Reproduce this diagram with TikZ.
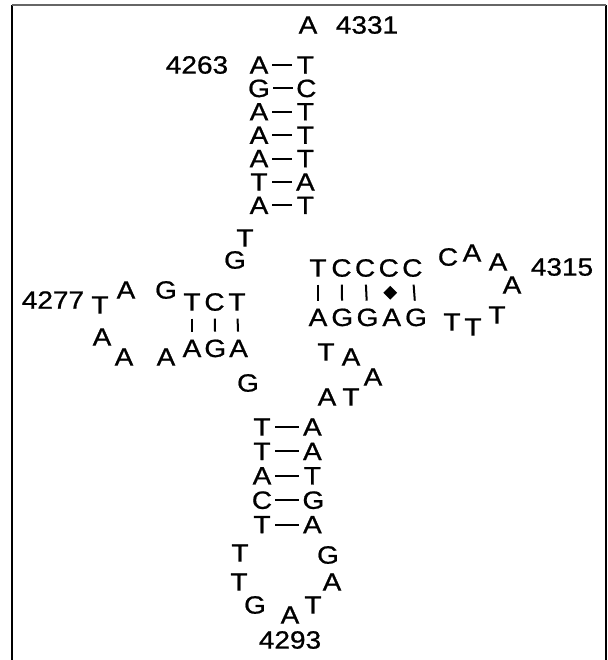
\documentclass[tikz,border=0pt]{standalone}
\usepackage{fontspec}
\setmainfont{Liberation Sans}[FakeStretch=1.12, FakeBold=0.8]
\usetikzlibrary{positioning,shapes.geometric}

\begin{document}
\begin{tikzpicture}[x=1pt, y=-1pt, font=\fontsize{25}{25}\selectfont, every node/.style={inner sep=0pt, minimum width=20pt, minimum height=19pt}, pair/.style={line width=2pt, shorten <=3pt, shorten >=3pt}, bar/.style={line width=2pt, shorten <=7pt, shorten >=7pt}, wobble/.style={diamond, fill, minimum width=14pt, minimum height=14pt}]
    \useasboundingbox (0,0) rectangle (607,660);
    \draw [line width=2pt] (12,660) -- (12,5);
    \draw [line width=2pt] (606,5) -- (606,660);
    \draw [line width=1.2pt, black!60] (12,5) -- (606,5);

    \node (top) at (308,25) {A};
    \node (n4331) at (367,25) {4331};
    \node (n4263) at (197,65) {4263};

    \node (a1) at (259,65) {A};
    \node (a2) [below=4pt of a1] {G};
    \node (a3) [below=4pt of a2] {A};
    \node (a4) [below=4pt of a3] {A};
    \node (a5) [below=4pt of a4] {A};
    \node (a6) [below=4pt of a5] {T};
    \node (a7) [below=4pt of a6] {A};
    \node (b1) [right=26pt of a1] {T};
    \node (b2) [right=26pt of a2] {C};
    \node (b3) [right=26pt of a3] {T};
    \node (b4) [right=26pt of a4] {T};
    \node (b5) [right=26pt of a5] {T};
    \node (b6) [right=26pt of a6] {A};
    \node (b7) [right=26pt of a7] {T};

    \node (j1) at (245,238) {T};
    \node (j2) at (235,260) {G};

    \node (d1) at (192,302) {T};
    \node (d2) [right=2pt of d1] {C};
    \node (d3) [right=2pt of d2] {T};
    \node (e1) [below=27pt of d1] {A};
    \node (e2) [right=2pt of e1] {G};
    \node (e3) [right=2pt of e2] {A};
    \node (dl1) at (166,290) {G};
    \node (dl2) at (126,290) {A};
    \node (dl3) at (100,305) {T};
    \node (dl4) at (102,337) {A};
    \node (dl5) at (124,357) {A};
    \node (dl6) at (166,357) {A};
    \node (n4277) at (53,300) {4277};
    \node (j3) at (248,383) {G};

    \node (t1) at (318,268) {T};
    \node (t2) [right=3pt of t1] {C};
    \node (t3) [right=3pt of t2] {C};
    \node (t4) [right=3pt of t3] {C};
    \node (t5) [right=3pt of t4] {C};
    \node (u1) [below=30pt of t1] {A};
    \node (u2) [right=3pt of u1] {G};
    \node (u3) [right=3pt of u2] {G};
    \node (u4) [right=3pt of u3] {A};
    \node (u5) [right=3pt of u4] {G};
    \node (tl1) at (448,257) {C};
    \node (tl2) at (472,253) {A};
    \node (tl3) at (498,262) {A};
    \node (tl4) at (512,285) {A};
    \node (tl5) at (497,315) {T};
    \node (tl6) at (473,327) {T};
    \node (tl7) at (452,322) {T};
    \node (n4315) at (562,267) {4315};

    \node (k1) at (326,352) {T};
    \node (k2) at (351,357) {A};
    \node (k3) at (373,377) {A};
    \node (k4) at (351,397) {T};
    \node (k5) at (327,397) {A};

    \node (p1) at (262,427) {T};
    \node (p2) [below=5pt of p1] {T};
    \node (p3) [below=5pt of p2] {A};
    \node (p4) [below=5pt of p3] {C};
    \node (p5) [below=5pt of p4] {T};
    \node (q1) [right=30pt of p1] {A};
    \node (q2) [right=30pt of p2] {A};
    \node (q3) [right=30pt of p3] {T};
    \node (q4) [right=30pt of p4] {G};
    \node (q5) [right=30pt of p5] {A};
    \node (pl1) at (240,553) {T};
    \node (pl2) at (239,582) {T};
    \node (pl3) at (255,605) {G};
    \node (pl4) at (290,615) {A};
    \node (pl5) at (313,605) {T};
    \node (pl6) at (332,582) {A};
    \node (pl7) at (328,555) {G};
    \node (n4293) at (290,640) {4293};

    \draw [pair] (a1) -- (b1);
    \draw [pair] (a2) -- (b2);
    \draw [pair] (a3) -- (b3);
    \draw [pair] (a4) -- (b4);
    \draw [pair] (a5) -- (b5);
    \draw [pair] (a6) -- (b6);
    \draw [pair] (a7) -- (b7);
    \draw [bar] (d1) -- (e1);
    \draw [bar] (d2) -- (e2);
    \draw [bar] (d3) -- (e3);
    \draw [bar] (t1) -- (u1);
    \draw [bar] (t2) -- (u2);
    \draw [bar] (t3) -- (u3);
    \path (t4) -- node [wobble] {} (u4);
    \draw [bar] (t5) -- (u5);
    \draw [pair] (p1) -- (q1);
    \draw [pair] (p2) -- (q2);
    \draw [pair] (p3) -- (q3);
    \draw [pair] (p4) -- (q4);
    \draw [pair] (p5) -- (q5);
  \end{tikzpicture}
\end{document}
